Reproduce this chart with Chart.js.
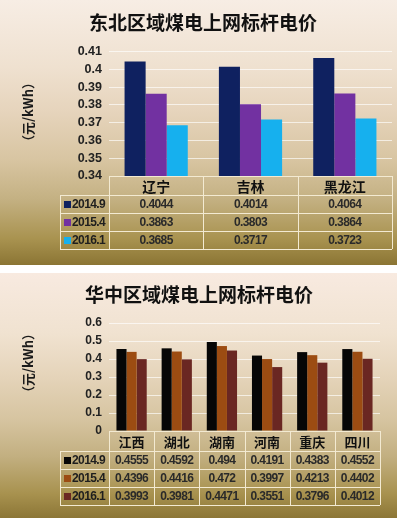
<!DOCTYPE html>
<html>
<head>
<meta charset="utf-8">
<script src="https://cdn.jsdelivr.net/npm/chart.js@4.4.1/dist/chart.umd.min.js"></script>
<style>
  html,body{margin:0;padding:0;background:#ffffff;}
  body{width:397px;height:522px;position:relative;overflow:hidden;}
  .panel{position:absolute;left:0;width:397px;}
  #p1{top:0;height:265px;background:linear-gradient(to bottom,#f7ede4 0%,#efe1d0 25%,#e6d4bc 42%,#d8c5a2 60%,#c4b183 75%,#a99350 90%,#8b7534 100%);}
  #p2{top:273px;height:245px;background:linear-gradient(to bottom,#f8eae0 0%,#f0e2d0 25%,#e5d4ba 42%,#d6c4a0 60%,#c2af80 75%,#a8924f 90%,#8c7636 100%);}
  canvas{display:block;}
</style>
</head>
<body>
<div class="panel" id="p1"><canvas id="c1" width="397" height="265"></canvas></div>
<div class="panel" id="p2"><canvas id="c2" width="397" height="245"></canvas></div>
<script>
// ---------- DATA ----------
const seriesLabels = ['2014.9', '2015.4', '2016.1'];

const neTitle = '东北区域煤电上网标杆电价';
const neCategories = ['辽宁', '吉林', '黑龙江'];
const ne2014 = [0.4044, 0.4014, 0.4064];
const ne2015 = [0.3863, 0.3803, 0.3864];
const ne2016 = [0.3685, 0.3717, 0.3723];
const neYTicks = [0.34, 0.35, 0.36, 0.37, 0.38, 0.39, 0.40, 0.41];

const ccTitle = '华中区域煤电上网标杆电价';
const ccCategories = ['江西', '湖北', '湖南', '河南', '重庆', '四川'];
const cc2014 = [0.4555, 0.4592, 0.494, 0.4191, 0.4383, 0.4552];
const cc2015 = [0.4396, 0.4416, 0.472, 0.3997, 0.4213, 0.4402];
const cc2016 = [0.3993, 0.3981, 0.4471, 0.3551, 0.3796, 0.4012];
const ccYTicks = [0, 0.1, 0.2, 0.3, 0.4, 0.5, 0.6];

const yAxisTitle = '（元/kWh）';

// ---------- STYLE ----------
const NUM_FONT = '"Liberation Sans", Arial, sans-serif';
const CJK_FONT = '"Noto Sans CJK SC", "Noto Sans", sans-serif';
const neColors = ['#0f2160', '#7231a1', '#16b0ee'];
const ccColors = ['#060606', '#9c4c12', '#6a2722'];

function fmt(v){ return String(v); }

const decorPlugin = {
  id: 'decor',
  afterDraw(chart, args, o) {
    const ctx = chart.ctx;
    const area = chart.chartArea;
    const xs = chart.scales.x;
    const n = chart.data.labels.length;
    const cw = (area.right - area.left) / n;
    ctx.save();
    // panel title
    ctx.fillStyle = '#111';
    ctx.font = 'bold ' + o.titleSize + 'px ' + CJK_FONT;
    ctx.textAlign = 'center';
    ctx.textBaseline = 'middle';
    ctx.fillText(o.title, o.titleX, o.titleY);
    // y axis title
    ctx.save();
    ctx.translate(o.yTitleX, o.yTitleY);
    ctx.rotate(-Math.PI / 2);
    ctx.font = 'bold 13px ' + CJK_FONT;
    ctx.fillStyle = '#1a1a1a';
    ctx.fillText(yAxisTitle, 0, 0);
    ctx.restore();

    // data table
    const top = area.bottom;
    const hh = o.headerHeight, rh = o.rowHeight;
    const ds = chart.data.datasets;
    const bottom = top + hh + ds.length * rh;
    const bounds = [];
    for (let i = 0; i < n; i++) bounds.push(xs.getPixelForValue(i) - cw / 2);
    bounds.push(xs.getPixelForValue(n - 1) + cw / 2);
    const L = o.legendLeft;
    ctx.strokeStyle = o.lineColor;
    ctx.lineWidth = 1;
    const hl = (x1, x2, y) => { ctx.beginPath(); ctx.moveTo(x1, Math.round(y) + 0.5); ctx.lineTo(x2, Math.round(y) + 0.5); ctx.stroke(); };
    const vl = (x, y1, y2) => { ctx.beginPath(); ctx.moveTo(Math.round(x) + 0.5, y1); ctx.lineTo(Math.round(x) + 0.5, y2); ctx.stroke(); };
    hl(bounds[0], bounds[n], top);
    for (let r = 0; r <= ds.length; r++) hl(L, bounds[n], top + hh + r * rh);
    vl(L, top + hh, bottom);
    bounds.forEach(b => vl(b, top, bottom));

    // header text
    ctx.fillStyle = '#111';
    ctx.font = 'bold ' + o.headSize + 'px ' + CJK_FONT;
    ctx.textAlign = 'center';
    ctx.textBaseline = 'middle';
    chart.data.labels.forEach((lab, i) => ctx.fillText(lab, xs.getPixelForValue(i), top + hh / 2 + 1));
    // rows
    ctx.letterSpacing = '-0.6px';
    ds.forEach((d, r) => {
      const cy = top + hh + r * rh + rh / 2 + 0.5;
      ctx.fillStyle = d.backgroundColor;
      ctx.fillRect(L + 4, Math.round(cy - 3.5), 7, 7);
      ctx.fillStyle = '#1e1e1e';
      ctx.font = 'bold ' + o.numSize + 'px ' + NUM_FONT;
      ctx.textAlign = 'left';
      ctx.fillText(d.label, L + 12, cy);
      ctx.textAlign = 'center';
      ctx.fillStyle = '#2a2a2a';
      d.data.forEach((v, i) => ctx.fillText(fmt(v), xs.getPixelForValue(i), cy));
    });
    ctx.letterSpacing = '0px';
    ctx.restore();
  }
};

function build(canvasId, categories, series, colors, ticks, layoutPad, axisWidth, tickSize, decor) {
  return new Chart(document.getElementById(canvasId), {
    type: 'bar',
    data: {
      labels: categories,
      datasets: series.map((s, i) => ({
        label: seriesLabels[i],
        data: s,
        backgroundColor: colors[i],
        borderWidth: 0,
        categoryPercentage: 0.67,
        barPercentage: 1.0
      }))
    },
    options: {
      responsive: false,
      animation: false,
      layout: { padding: layoutPad },
      plugins: { legend: { display: false }, tooltip: { enabled: false }, title: { display: false }, decor: decor },
      scales: {
        x: { display: false },
        y: {
          min: ticks[0],
          max: ticks[ticks.length - 1],
          afterBuildTicks: (s) => { s.ticks = ticks.map(v => ({ value: v })); },
          afterFit: (s) => { s.width = axisWidth; },
          border: { display: false },
          grid: { color: 'rgba(255,255,255,0.65)', lineWidth: 1, drawTicks: false },
          ticks: {
            autoSkip: false,
            padding: 7,
            color: '#222',
            font: { family: NUM_FONT, size: tickSize, weight: 'bold' },
            callback: (v) => fmt(Math.round(v * 1000) / 1000)
          }
        }
      }
    },
    plugins: [decorPlugin]
  });
}

build('c1', neCategories, [ne2014, ne2015, ne2016], neColors, neYTicks,
  { top: 51.5, right: 5, bottom: 89, left: 0 }, 109, 12.5,
  { title: neTitle, titleX: 203, titleY: 23, titleSize: 19, yTitleX: 28, yTitleY: 112,
    headerHeight: 19, rowHeight: 18, legendLeft: 60, lineColor: '#f3ead2', headSize: 14, numSize: 12 });

build('c2', ccCategories, [cc2014, cc2015, cc2016], ccColors, ccYTicks,
  { top: 50, right: 17, bottom: 87, left: 0 }, 109, 12,
  { title: ccTitle, titleX: 199, titleY: 22, titleSize: 19, yTitleX: 28, yTitleY: 90,
    headerHeight: 20, rowHeight: 18, legendLeft: 60, lineColor: '#f3ead2', headSize: 13, numSize: 12 });
</script>
</body>
</html>
